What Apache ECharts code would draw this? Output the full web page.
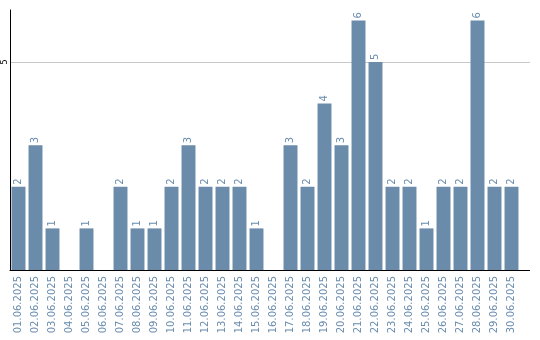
<!DOCTYPE html>
<html><head><meta charset="utf-8">
<script src="https://cdn.jsdelivr.net/npm/echarts@6/dist/echarts.min.js"></script>
<style>html,body{margin:0;padding:0;background:#fff}#c{width:540px;height:340px}</style>
</head><body><div id="c"></div>
<script>
const categories = ['01.06.2025','02.06.2025','03.06.2025','04.06.2025','05.06.2025','06.06.2025','07.06.2025','08.06.2025','09.06.2025','10.06.2025','11.06.2025','12.06.2025','13.06.2025','14.06.2025','15.06.2025','16.06.2025','17.06.2025','18.06.2025','19.06.2025','20.06.2025','21.06.2025','22.06.2025','23.06.2025','24.06.2025','25.06.2025','26.06.2025','27.06.2025','28.06.2025','29.06.2025','30.06.2025'];
const values = [2,3,1,0,1,0,2,1,1,2,3,2,2,2,1,0,3,2,4,3,6,5,2,2,1,2,2,6,2,2];
const yTicks = [0,5];

const chart = echarts.init(document.getElementById('c'), null, {renderer:'canvas'});
const barColor = '#6b8bab';
const gridRight = 520, lineEnd = 530;
chart.setOption({
  animation:false,
  grid:{left:10, top:10, width:510, bottom:70, containLabel:false},
  xAxis:{type:'category', data:categories,
    axisLine:{lineStyle:{color:'#000', width:1}}, axisTick:{show:false},
    axisLabel:{rotate:90, interval:0, color:'#6a8cae', fontFamily:'DejaVu Sans', fontSize:10, margin:6}},
  yAxis:{type:'value', min:yTicks[0], max:6.25, interval:yTicks[1]-yTicks[0],
    axisLine:{show:true, lineStyle:{color:'#000', width:1}}, axisTick:{show:false},
    splitLine:{showMaxLine:false, showMinLine:false, lineStyle:{color:'#c8c8c8', width:1}},
    axisLabel:{rotate:90, color:'#000', fontFamily:'DejaVu Sans', fontSize:8, margin:1, showMinLabel:false, showMaxLabel:false,
      formatter:v=> v===0?'':String(v)}},
  series:[{type:'bar', data:values, barCategoryGap:'18%', itemStyle:{color:barColor},
    label:{show:true, position:'top', rotate:90, distance:2, color:'#6a8cae', fontFamily:'DejaVu Sans', fontSize:10,
      align:'left', verticalAlign:'middle',
      formatter:p=> p.value===0?'':String(p.value)}}]
});
// extend axis line and grid line to the right edge of the plotting frame
const yGrid = Math.round(chart.convertToPixel({yAxisIndex:0}, yTicks[1])) + 0.5;
const yBase = Math.round(chart.convertToPixel({yAxisIndex:0}, yTicks[0])) + 0.5;
chart.setOption({graphic:[
  {type:'line', shape:{x1:gridRight, y1:yGrid, x2:lineEnd, y2:yGrid}, style:{stroke:'#c8c8c8', lineWidth:1}, z:0},
  {type:'line', shape:{x1:gridRight, y1:yBase, x2:lineEnd, y2:yBase}, style:{stroke:'#000', lineWidth:1}}
]});
</script></body></html>
